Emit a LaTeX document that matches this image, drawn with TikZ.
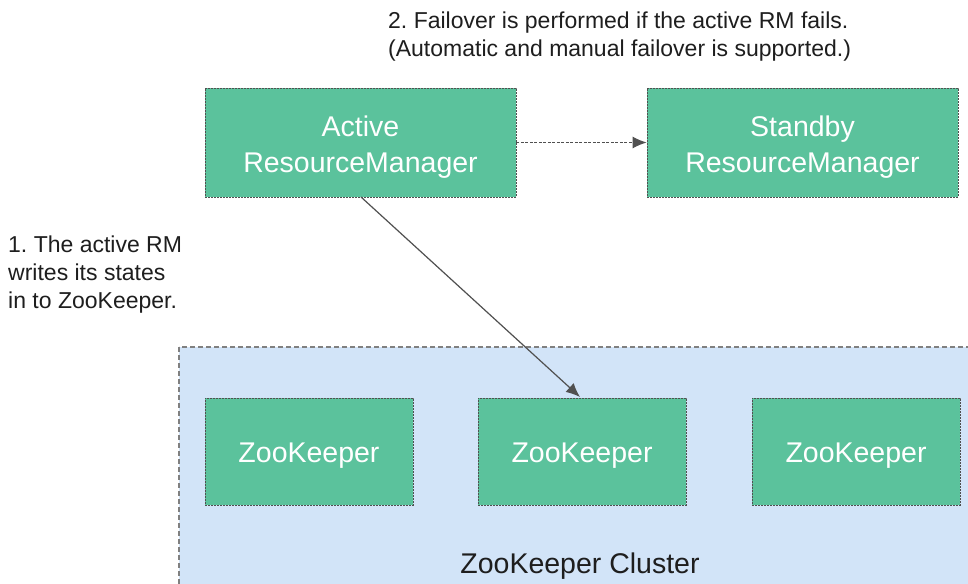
\documentclass[tikz,border=0pt]{standalone}
\usepackage{fontspec}
\setmainfont{Liberation Sans}
\usetikzlibrary{arrows.meta}
\definecolor{boxgreen}{RGB}{91,194,156}
\definecolor{clusterblue}{RGB}{210,228,248}
\definecolor{edgegray}{RGB}{80,80,80}
\definecolor{txt}{RGB}{30,30,30}
\tikzset{
  gbox/.style={draw=edgegray, fill=boxgreen, line width=0.9pt, dash pattern=on 2pt off 1pt, inner sep=0pt},
  boxtxt/.style={text=white, font=\fontsize{28.5}{36}\selectfont\frenchspacing, align=center, inner sep=0pt},
  note/.style={text=txt, font=\fontsize{23}{28}\selectfont\frenchspacing, align=left, anchor=north west, inner sep=0pt},
  arr/.style={-{Latex[length=14pt,width=12pt]}, draw=edgegray, line width=1.2pt}
}
\begin{document}
\begin{tikzpicture}[x=1pt,y=-1pt]
\clip (0,0) rectangle (968,583);
\fill[white] (0,0) rectangle (968,583);
% cluster
\draw[fill=clusterblue, draw=gray, line width=1.3pt, dash pattern=on 5pt off 3pt] (179,347) rectangle (990,600);
\node[text=txt, font=\fontsize{28.5}{36}\selectfont, anchor=base] (cl) at (580,573) {ZooKeeper Cluster};
% RM boxes
\node[gbox, minimum width=311pt, minimum height=109pt] (arm) at (360.5,142.5) {};
\node[boxtxt] (armt) at (360.5,147.5) {Active\\ResourceManager};
\node[gbox, minimum width=311pt, minimum height=109pt] (srm) at (802.5,142.5) {};
\node[boxtxt] (srmt) at (802.5,147.5) {Standby\\ResourceManager};
% ZK boxes
\node[gbox, minimum width=208pt, minimum height=107pt] (z1) at (309,451.5) {};
\node[boxtxt] (z1t) at (309,455.5) {ZooKeeper};
\node[gbox, minimum width=208pt, minimum height=107pt] (z2) at (582,451.5) {};
\node[boxtxt] (z2t) at (582,455.5) {ZooKeeper};
\node[gbox, minimum width=208pt, minimum height=107pt] (z3) at (856,451.5) {};
\node[boxtxt] (z3t) at (856,455.5) {ZooKeeper};
% arrows
\draw[arr, line width=1pt, dash pattern=on 3pt off 1.5pt] (arm.east) -- (srm.west);
\coordinate (from) at (361,197);
\coordinate (to) at (580,397);
\draw[arr] (from) -- (to);
% notes
\node[note] (n2) at (388,12) {2. Failover is performed if the active RM fails.\\(Automatic and manual failover is supported.)};
\node[note] (n1) at (8,236) {1. The active RM\\writes its states\\in to ZooKeeper.};
\end{tikzpicture}
\end{document}
